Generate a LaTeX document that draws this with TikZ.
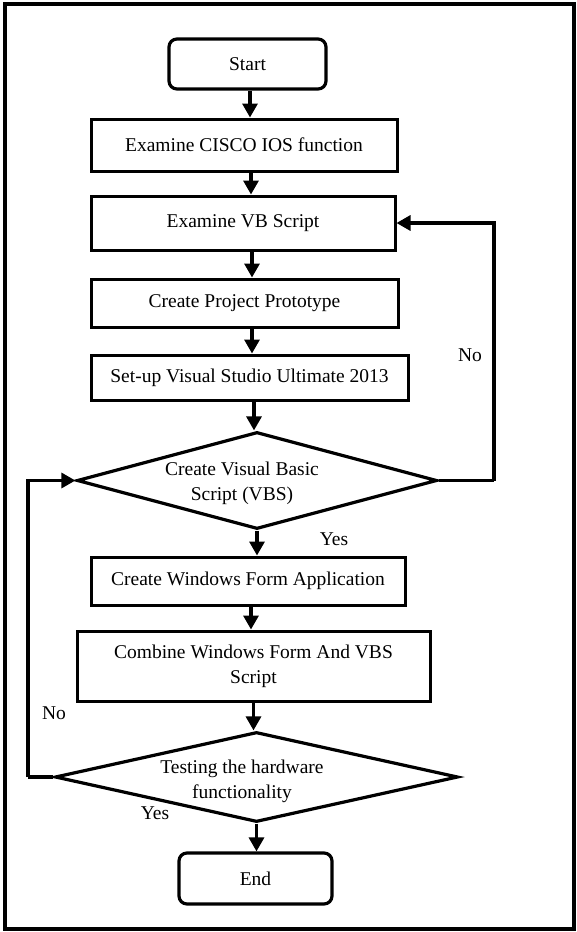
\documentclass[tikz,border=0pt]{standalone}
\usepackage{fontspec}
\setmainfont{Liberation Serif}
\usetikzlibrary{shapes.geometric,arrows.meta,calc}

\begin{document}
\begin{tikzpicture}[x=1pt,y=-1pt,
  every node/.style={font=\fontsize{19.5}{25}\selectfont},
  proc/.style={draw,line width=3pt,rectangle,inner sep=0pt,align=center},
  term/.style={draw,line width=3.2pt,rectangle,rounded corners=8pt,inner sep=0pt},
  decision/.style={draw,line width=3.2pt,diamond,inner sep=0pt},
  arr/.style={line width=3.2pt,-{Triangle[length=14pt,width=15pt]}},
  lnk/.style={line width=3.2pt}
]
\useasboundingbox (0,0) rectangle (577,932);
% outer frame
\draw[line width=3.5pt] (5,4) rectangle (574,929);

% terminals and steps
\node[term,minimum width=157pt,minimum height=50pt] (start) at (247.5,64) {Start};
\node[proc,minimum width=306pt,minimum height=52pt] (cisco) at (244,145) {Examine CISCO IOS function};
\node[proc,minimum width=304pt,minimum height=54pt] (vb) at (243,223) {Examine VB Script};
\node[proc,minimum width=307pt,minimum height=48pt] (proto) at (244.5,303) {Create Project Prototype};
\node[proc,minimum width=317pt,minimum height=45pt] (setup) at (249.5,377.5) {Set-up Visual Studio Ultimate 2013};

% first decision
\node[decision,minimum width=360pt,minimum height=97pt] (d1) at (257,480.5) {};
\node[align=center] (d1txt) at (242,483) {Create Visual Basic\\Script (VBS)};

\node[proc,minimum width=314pt,minimum height=48pt] (winform) at (248,581) {Create Windows Form Application};
\node[proc,minimum width=353pt,minimum height=70pt] (combine) at (253.5,666) {Combine Windows Form And VBS\\Script};

% second decision
\node[decision,minimum width=403pt,minimum height=90pt] (d2) at (256.5,777) {};
\node[align=center] (d2txt) at (242,781) {Testing the hardware\\functionality};

\node[term,minimum width=153pt,minimum height=51pt] (end) at (255.5,878.5) {End};

% main flow
\draw[arr] ([xshift=2.5pt]start.south) -- ([xshift=2.5pt]start.south |- cisco.north);
\draw[arr] ([xshift=7pt]cisco.south) -- ([xshift=7pt]cisco.south |- vb.north);
\draw[arr] ([xshift=9pt]vb.south) -- ([xshift=9pt]vb.south |- proto.north);
\draw[arr] ([xshift=7.5pt]proto.south) -- ([xshift=7.5pt]proto.south |- setup.north);
\draw[arr] ([xshift=4.5pt]setup.south) -- ([xshift=4.5pt]setup.south |- d1.north);
\draw[arr] (d1.south) -- (d1.south |- winform.north);
\draw[arr] ([xshift=3pt]winform.south) -- ([xshift=3pt]winform.south |- combine.north);
\draw[arr] (combine.south) -- (combine.south |- d2.north);
\draw[arr] (d2.south) -- (d2.south |- end.north);

% loop back from the first decision
\coordinate (nr) at (494,480.5);
\draw[lnk] (d1.east) -- (nr);
\draw[arr] (nr) |- (vb.east);

% loop back from the second decision
\coordinate (nl) at (28,777);
\draw[lnk] (d2.west) -- (nl);
\draw[arr] (nl) |- (d1.west);

% branch labels
\node (no1) at (470,355) {No};
\node (yes1) at (334,539) {Yes};
\node (no2) at (54,713) {No};
\node (yes2) at (155,813) {Yes};
\end{tikzpicture}
\end{document}
